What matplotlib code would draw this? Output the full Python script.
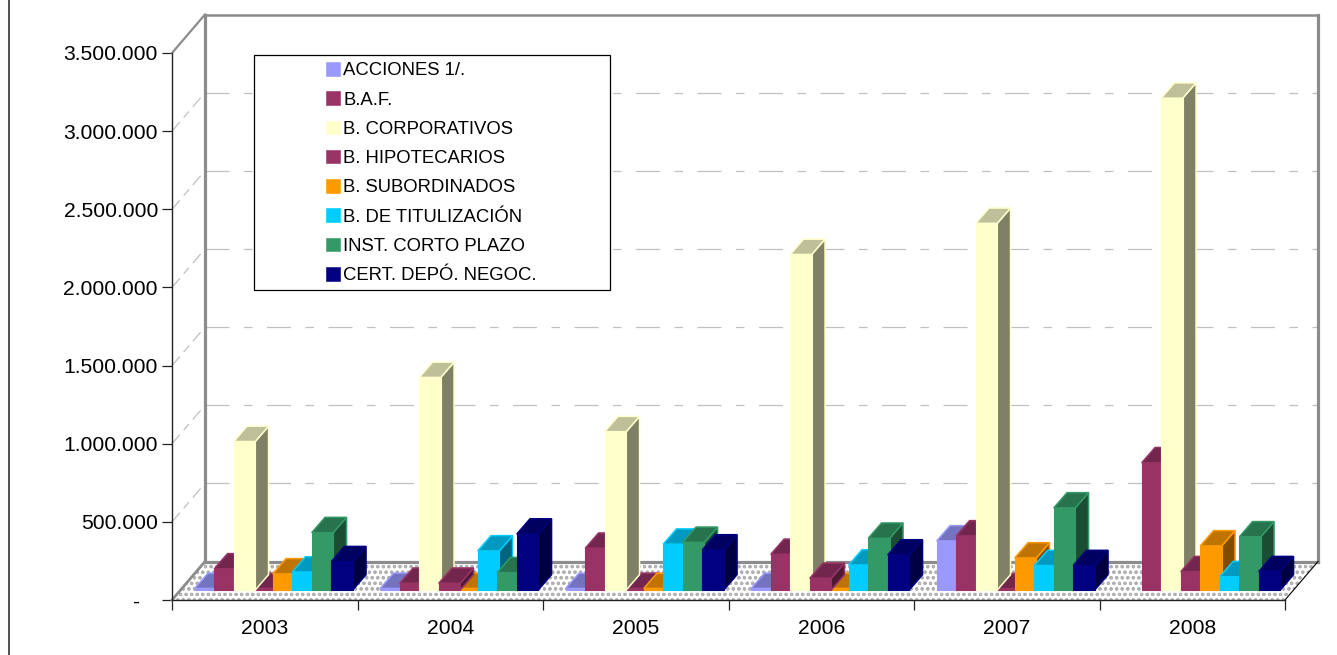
import matplotlib
matplotlib.use("Agg")
import matplotlib.pyplot as plt
from matplotlib.patches import Patch, Rectangle
from matplotlib.lines import Line2D

plt.rcParams['font.family'] = ['Liberation Sans', 'DejaVu Sans']
plt.rcParams['lines.scale_dashes'] = False
plt.rcParams['hatch.linewidth'] = 0.8

years = ['2003', '2004', '2005', '2006', '2007', '2008']
acciones = [10000, 10000, 10000, 10000, 314000, 0]
baf = [135000, 43000, 267000, 228000, 346000, 814000]
corporativos = [950000, 1360000, 1013000, 2147000, 2346000, 3147000]
hipotecarios = [10000, 43000, 10000, 75000, 8000, 117000]
subordinados = [103000, 10000, 10000, 10000, 205000, 282000]
titulizacion = [115000, 250000, 293000, 160000, 156000, 85000]
corto_plazo = [367000, 111000, 305000, 331000, 525000, 340000]
cert_depo = [181000, 358000, 256000, 224000, 156000, 117000]
y_ticks = [0, 500000, 1000000, 1500000, 2000000, 2500000, 3000000, 3500000]
y_labels = ['-   ', '500.000', '1.000.000', '1.500.000', '2.000.000', '2.500.000', '3.000.000', '3.500.000']

series_names = ['ACCIONES 1/.', 'B.A.F.', 'B. CORPORATIVOS', 'B. HIPOTECARIOS',
                'B. SUBORDINADOS', 'B. DE TITULIZACIÓN', 'INST. CORTO PLAZO', 'CERT. DEPÓ. NEGOC.']
series_values = [acciones, baf, corporativos, hipotecarios, subordinados, titulizacion, corto_plazo, cert_depo]
series_colors = ['#9999FF', '#993366', '#FFFFCC', '#993366', '#FF9900', '#00CCFF', '#339966', '#000080']

W, H = 1337, 655
L, R, T, B = 172, 1285, 53, 600
fig = plt.figure(figsize=(W / 100, H / 100), dpi=100, facecolor='white')
ax = fig.add_axes([L / W, (H - B) / H, (R - L) / W, (B - T) / H])
ax.set_xlim(0, 6)
ax.set_ylim(0, 3500000)
ax.patch.set_alpha(0)

ux = 6 / (R - L)            # data per pixel, x
uy = 3500000 / (B - T)      # data per pixel, y
DX, DY = 33 * ux, 38.5 * uy  # wall depth
BX, BY = 9 * ux, 10 * uy     # bar offset from the front
SX, SY = 13.3 * ux, 15.3 * uy  # bar depth
STEP, WIDTH = 19.5 * ux, 21.5 * ux


def shade(hexcol, f):
    r, g, b = matplotlib.colors.to_rgb(hexcol)
    return (r * f, g * f, b * f)


# floor
ax.fill([0, 6, 6 + DX, DX], [0, 0, DY, DY], facecolor='white', edgecolor='#b0b0b0',
        hatch='ooo', linewidth=0, zorder=1, clip_on=False)

# gridlines
dash = (0, (24 * .72, 14.5 * .72, 8.5 * .72, 14.5 * .72))
for v in y_ticks[1:-1]:
    ax.plot([DX, 6 + DX], [v + DY, v + DY], color='#C0C0C0', lw=.9, ls=dash, zorder=1, clip_on=False)
    ax.plot([0, DX], [v, v + DY], color='#C0C0C0', lw=.9, ls=(0, (12 * .72, 6 * .72, 8 * .72, 6 * .72)), zorder=1, clip_on=False)

# walls
wall = dict(color='#8c8c8c', zorder=2, clip_on=False, solid_capstyle='projecting')
top_val = 3500000 + DY
ax.plot([DX, DX], [DY, top_val], lw=2.3, **wall)
ax.plot([6 + DX, 6 + DX], [DY, top_val], lw=2.3, **wall)
ax.plot([DX, 6 + DX], [top_val, top_val], lw=1.8, **wall)
ax.plot([DX, 6 + DX], [DY, DY], lw=2.3, **wall)
ax.plot([0, DX], [0, DY], lw=2, color='#8c8c8c', zorder=2, clip_on=False)
ax.plot([0, DX], [3500000, top_val], lw=1.6, color='#8c8c8c', zorder=2, clip_on=False)
ax.plot([6, 6 + DX], [0, DY], lw=.8, color='black', zorder=2, clip_on=False)

# legend frame
ax.add_patch(Rectangle((254, H - 290), 356, 235, transform=None, facecolor='white',
                       edgecolor='black', lw=.9, zorder=3))

# bars: near-zero bars are painted first inside each group
z = 10
n = len(series_names)
for g in range(len(years)):
    group = sorted(range(n), key=lambda k: series_values[k][g] > 20000)
    for s in group:
        v = series_values[s][g]
        if v <= 0:
            continue
        col = series_colors[s]
        x0 = g + 0.5 + BX + (s - (n - 1) / 2) * STEP - WIDTH / 2
        x1 = x0 + WIDTH
        y0, y1 = BY, BY + v
        ek = dict(edgecolor=col, linewidth=1.1, clip_on=False, zorder=z, joinstyle='miter')
        ax.fill([x1, x1 + SX, x1 + SX, x1], [y0, y0 + SY, y1 + SY, y1], facecolor=shade(col, .5), **ek)
        ax.fill([x0, x1, x1 + SX, x0 + SX], [y1, y1, y1 + SY, y1 + SY], facecolor=shade(col, .75), **ek)
        ax.bar(x0 + WIDTH / 2, v, WIDTH, bottom=BY, color=col, edgecolor=col, linewidth=.8, zorder=z, clip_on=False)
        z += 1

# axes
for sp in ('top', 'right'):
    ax.spines[sp].set_visible(False)
for sp in ('left', 'bottom'):
    ax.spines[sp].set_linewidth(1.0)
    ax.spines[sp].set_color('#222222')
    ax.spines[sp].set_zorder(5)
ax.set_yticks(y_ticks, y_labels)
ax.tick_params(axis='y', length=7.2, width=.9, pad=2.9, labelsize=15.2, color='#222222')
ax.set_xticks(range(7), [''] * 7)
ax.tick_params(axis='x', which='major', length=7.2, width=.9, color='#222222')
ax.set_xticks([i + 0.5 for i in range(6)], years, minor=True)
ax.tick_params(axis='x', which='minor', length=0, pad=14, labelsize=15.2)

# legend
handles = [Patch(facecolor=c, edgecolor=c, linewidth=.4) for c in series_colors]
leg = fig.legend(handles, series_names, loc='upper left',
                 bbox_to_anchor=(326 / W, 1 - 62 / H), bbox_transform=fig.transFigure,
                 frameon=False, fontsize=13.3, handlelength=.76, handleheight=.76,
                 handletextpad=.17, labelspacing=.65, borderpad=0, borderaxespad=0)
leg.set_zorder(6)

# left border of the chart area and the cut-off title brackets
fig.add_artist(Line2D([9 / W, 9 / W], [0, 1], color='#222222', lw=1.1))
fig.text(571 / W, 1 - 0.0 / H, '(', color='#000080', fontsize=12, fontweight='bold', ha='center', va='bottom')
fig.text(778 / W, 1 - 0.0 / H, ')', color='#000080', fontsize=12, fontweight='bold', ha='center', va='bottom')

fig.savefig('out.png', dpi=100, facecolor='white')
